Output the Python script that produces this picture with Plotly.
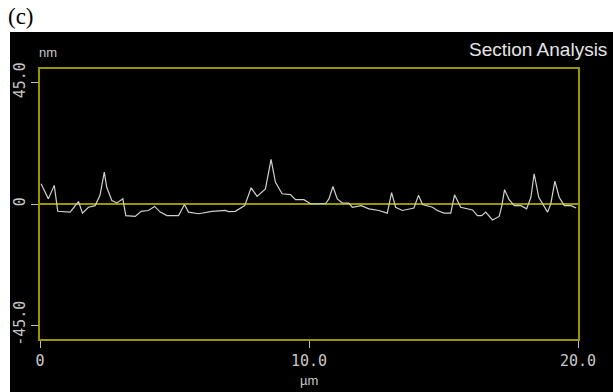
import plotly.graph_objects as go

# Section profile (x in µm, height in nm)
x_um = [0.04, 0.31, 0.53, 0.66, 1.12, 1.43, 1.58, 1.80, 2.05, 2.23, 2.39, 2.48, 2.67, 2.86,
        3.08, 3.19, 3.54, 3.76, 4.03, 4.26, 4.47, 4.72, 5.15, 5.37, 5.52, 5.90, 6.39, 6.89,
        7.01, 7.26, 7.61, 7.85, 8.07, 8.26, 8.38, 8.59, 8.75, 9.00, 9.31, 9.50, 9.81, 10.06,
        10.61, 10.74, 10.89, 11.05, 11.24, 11.48, 11.61, 11.94, 12.23, 12.60, 12.91, 13.07,
        13.22, 13.47, 13.90, 14.07, 14.22, 14.59, 14.77, 15.02, 15.27, 15.41, 15.64, 16.08,
        16.26, 16.42, 16.57, 16.82, 17.07, 17.17, 17.27, 17.44, 17.63, 17.88, 18.09, 18.25,
        18.37, 18.54, 18.69, 18.87, 18.99, 19.14, 19.30, 19.49, 19.74, 19.93]
height_nm = [7.5, 1.9, 6.9, -2.7, -3.0, 0.9, -3.4, -1.2, -0.6, 3.2, 11.8, 6.2, 1.3, 0.4,
             1.9, -4.3, -4.6, -2.7, -2.4, -0.9, -3.0, -4.3, -4.3, -0.2, -3.0, -3.6, -2.7, -2.4,
             -2.8, -2.7, -0.6, 6.0, 2.8, 4.4, 5.6, 16.5, 8.1, 3.8, 3.5, 1.6, 1.6, 0.1,
             0.1, 1.9, 6.5, 1.9, 0.4, 0.3, -1.2, -0.6, -1.8, -2.4, -3.4, 4.2,
             -1.2, -2.4, -1.5, 3.2, -0.2, -1.2, -2.4, -3.4, -3.4, 3.4, -1.2, -2.2,
             -4.3, -4.3, -3.0, -5.9, -4.6, -0.6, 5.3, 1.6, -0.6, -0.6, -1.8, 2.5,
             11.2, 2.5, 0.1, -3.0, 0.1, 8.5, 2.5, -0.6, -0.6, -1.5]

x_ticks = [0, 10, 20]
x_tick_text = ["0", "10.0", "20.0"]
y_ticks = [45, 0, -45]
y_tick_text = ["45.0", "0", "-45.0"]

YEL = "#9a9600"
TXT = "#c8c8c8"
W, H = 613, 392
L, R, T, B = 40, 35, 69, 53
pw, ph = W - L - R, H - T - B

def px(v):
    return (v - L) / pw

def py(v):
    return (H - B - v) / ph

fig = go.Figure()
fig.add_trace(go.Scatter(x=x_um, y=height_nm, mode="lines",
                         line=dict(color="#d0d0d0", width=1.2), hoverinfo="skip"))

fig.add_shape(type="rect", xref="paper", yref="paper",
              x0=px(10), x1=px(W + 5), y0=py(H + 5), y1=py(32),
              fillcolor="black", line=dict(width=0), layer="below")

mono = dict(family="DejaVu Sans Mono", size=15, color=TXT)
fig.update_layout(
    width=W, height=H, margin=dict(l=L, r=R, t=T, b=B),
    paper_bgcolor="white", plot_bgcolor="black", showlegend=False,
    xaxis=dict(range=[0, 20], tickvals=x_ticks, ticktext=x_tick_text,
               showgrid=False, zeroline=False, showline=True, mirror=True,
               linecolor=YEL, linewidth=1.5, ticks="outside", ticklen=7,
               tickcolor="#bbbbbb", tickwidth=1, tickfont=mono),
    yaxis=dict(range=[-50, 50], tickvals=y_ticks, ticktext=y_tick_text,
               showgrid=False, zeroline=True, zerolinecolor=YEL, zerolinewidth=1.5,
               showline=True, mirror=True, linecolor=YEL, linewidth=1.5,
               ticks="outside", ticklen=7, tickcolor="#bbbbbb", tickwidth=1,
               tickangle=-90, tickfont=mono),
)

fig.add_annotation(text="Section Analysis", xref="paper", yref="paper",
                   x=px(609), y=py(50), xanchor="right", yanchor="middle",
                   showarrow=False, font=dict(family="Liberation Sans", size=19, color="#e6e6e6"))
fig.add_annotation(text="nm", xref="paper", yref="paper",
                   x=px(48), y=py(53), xanchor="center", yanchor="middle",
                   showarrow=False, font=dict(family="Liberation Sans", size=13, color=TXT))
fig.add_annotation(text="µm", xref="x", yref="paper",
                   x=10, y=py(380), xanchor="center", yanchor="middle",
                   showarrow=False, font=dict(family="Liberation Sans", size=13, color=TXT))
fig.add_annotation(text="(c)", xref="paper", yref="paper",
                   x=px(6), y=py(16), xanchor="left", yanchor="middle",
                   showarrow=False, font=dict(family="Liberation Serif", size=23, color="black"))

fig.write_html("out.html")
